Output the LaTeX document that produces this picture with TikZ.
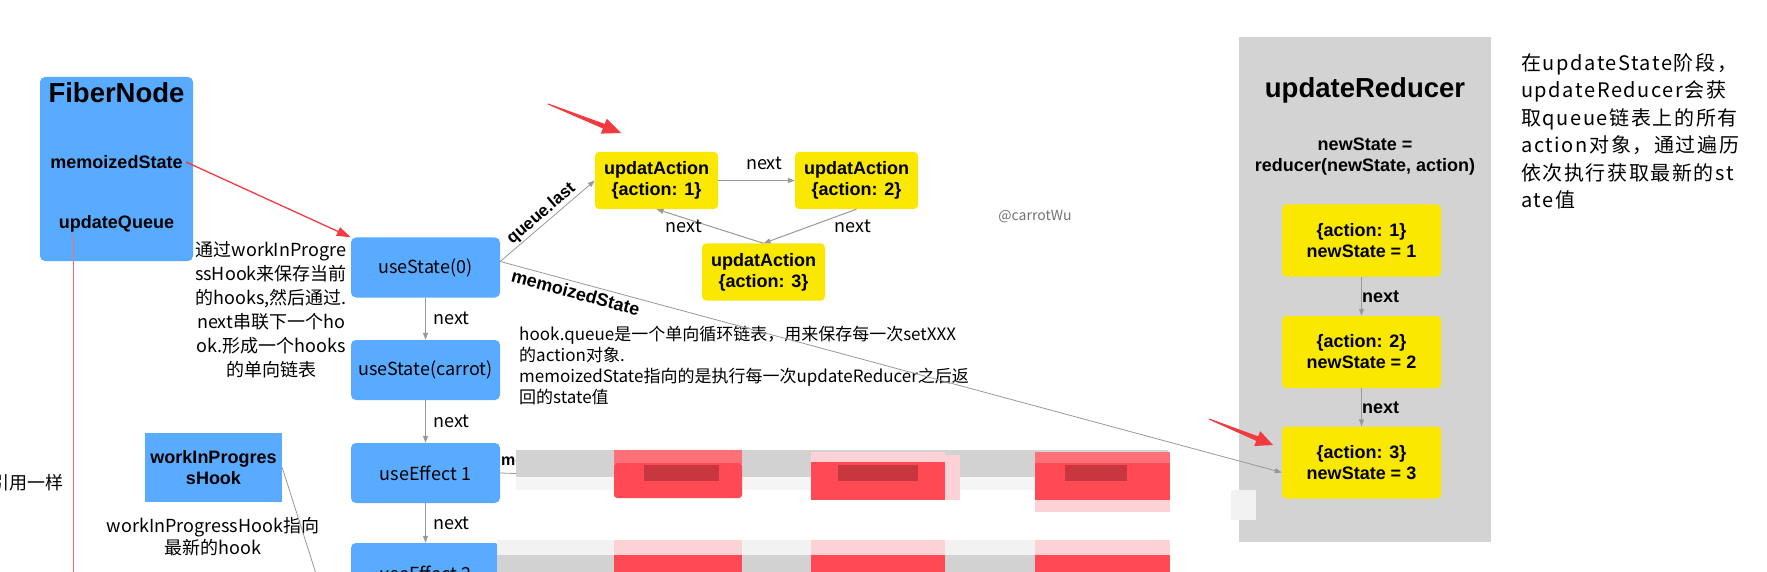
\documentclass[tikz,border=0pt]{standalone}
\usepackage{fontspec}
\setmainfont{Liberation Sans}
\newfontfamily\cjk{Noto Sans CJK SC}
\newfontfamily\cjkwide[LetterSpace=8]{Noto Sans CJK SC}
\usetikzlibrary{arrows.meta}
\definecolor{hookblue}{HTML}{58ABFF}
\definecolor{actyellow}{HTML}{FAE800}
\definecolor{panelgray}{HTML}{D3D3D3}
\definecolor{linegray}{HTML}{999999}
\definecolor{annored}{HTML}{F23A40}
\definecolor{redact}{HTML}{FF4A55}
\definecolor{redactlight}{HTML}{FF7078}
\definecolor{redactdark}{HTML}{C8363F}
\definecolor{redactpink}{HTML}{FCD2D6}
\begin{document}
\begin{tikzpicture}[x=1pt,y=-1pt,
  hookbox/.style={rectangle, rounded corners=5pt, fill=hookblue, minimum width=149pt, minimum height=60pt, inner sep=0pt, font=\cjk\fontsize{18}{22}\selectfont},
  actbox/.style={rectangle, rounded corners=4pt, fill=actyellow, minimum width=123pt, minimum height=57pt, inner sep=0pt, align=center, font=\bfseries\fontsize{18}{21}\selectfont},
  redbox/.style={rectangle, rounded corners=4pt, fill=actyellow, minimum width=159pt, minimum height=72pt, inner sep=0pt, align=center, font=\bfseries\fontsize{18}{21}\selectfont},
  nextarrow/.style={draw=linegray, line width=1pt, -{Triangle[length=7pt,width=5pt]}},
  thinarrow/.style={draw=linegray, line width=0.8pt, -{Triangle[length=7pt,width=5pt]}},
  nextlbl/.style={font=\cjk\fontsize{18}{22}\selectfont},
  boldlbl/.style={font=\bfseries\fontsize{18}{21}\selectfont},
  note/.style={font=\cjk\fontsize{18}{24}\selectfont, align=center},
  titlelbl/.style={font=\bfseries\fontsize{27.5}{30}\selectfont}
]
\useasboundingbox (0,0) rectangle (1767,572);
\fill[white] (0,0) rectangle (1767,572);

% FiberNode
\node[rectangle, rounded corners=5pt, fill=hookblue, minimum width=153pt, minimum height=184pt, inner sep=0pt] (fiber) at (116.5,169) {};
\node[titlelbl] (fbTitle) at (116.5,93) {FiberNode};
\node[boldlbl] (fbMemo) at (116.5,162) {memoizedState};
\node[boldlbl] (fbQueue) at (116.5,224) {updateQueue};
\coordinate (uqTop) at (73,235);
\coordinate (uqBot) at (73,580);
\draw[annored!75, line width=0.9pt] (uqTop) -- (uqBot);
\node[font=\cjk\fontsize{18}{22}\selectfont, anchor=east] (refSame) at (67,483) {引用一样};

% hooks chain
\node[hookbox] (hs0) at (425.5,267.5) {useState(0)};
\node[hookbox] (hs1) at (425.5,370) {useState(carrot)};
\node[hookbox] (he1) at (425.5,473) {useEffect 1};
\node[hookbox] (he2) at (425.5,573) {useEffect 2};
\draw[nextarrow] (hs0.south) -- node[nextlbl, right=4pt]{next} (hs1.north);
\draw[nextarrow] (hs1.south) -- node[nextlbl, right=4pt]{next} (he1.north);
\draw[nextarrow] (he1.south) -- node[nextlbl, right=4pt]{next} (he2.north);

\draw[annored, line width=1.3pt, -{Triangle[length=14pt,width=9pt]}] (fbMemo.east) -- (hs0.north west);

\node[note] (hookNote) at (271,310) {通过workInProgre\\ssHook来保存当前\\的hooks,然后通过.\\next串联下一个ho\\ok.形成一个hooks\\的单向链表};

% workInProgressHook
\node[rectangle, fill=hookblue, minimum width=137pt, minimum height=69pt, inner sep=0pt, align=center, font=\bfseries\fontsize{18}{21}\selectfont] (wip) at (213.5,467.5) {workInProgres\\sHook};
\node[font=\cjk\fontsize{18}{22}\selectfont, align=center] (wipNote) at (213,537) {workInProgressHook指向\\最新的hook};
\coordinate (wipEnd) at (318,580);
\draw[linegray, line width=0.8pt] (wip.east) -- (wipEnd);

% update actions
\node[actbox] (ua1) at (656.5,180.5) {updatAction\\\{action: 1\}};
\node[actbox] (ua2) at (856.5,180.5) {updatAction\\\{action: 2\}};
\node[actbox] (ua3) at (763.5,272) {updatAction\\\{action: 3\}};
\draw[nextarrow] (ua1.east) -- node[nextlbl, pos=0.6, yshift=17pt]{next} (ua2.west);
\draw[nextarrow] (ua2.south) -- node[nextlbl, midway, xshift=43pt]{next} (ua3.north);
\draw[nextarrow] (ua3.north) -- node[nextlbl, midway, xshift=-26pt]{next} (ua1.south);

% annotation arrow 1
\fill[annored] (548.2,103.5) -- (604.7,123.9) -- (606.8,118.8) -- (621,133) -- (600.8,133.6) -- (602.9,128.5) -- (547.8,104.5) -- cycle;

\node[font=\cjk\fontsize{14}{16}\selectfont, text=black!55] (wm) at (1035,217) {@carrotWu};

% hook.queue note
\node[font=\cjk\fontsize{17}{21}\selectfont, align=left, anchor=north west, inner sep=0pt] (queueNote) at (519,326) {hook.queue是一个单向循环链表，用来保存每一次setXXX\\的action对象.\\memoizedState指向的是执行每一次updateReducer之后返\\回的state值};

% updateReducer panel
\node[rectangle, fill=panelgray, minimum width=252pt, minimum height=505pt, inner sep=0pt, anchor=north west] (panel) at (1239,37) {};
\node[titlelbl] (ruTitle) at (1365,90) {updateReducer};
\node[boldlbl, align=center] (ruFormula) at (1365,156.5) {newState =\\reducer(newState, action)};
\node[redbox] (ru1) at (1361.5,240.5) {\{action: 1\}\\newState = 1};
\node[redbox] (ru2) at (1361.5,352) {\{action: 2\}\\newState = 2};
\node[redbox] (ru3) at (1361.5,462.5) {\{action: 3\}\\newState = 3};
\draw[nextarrow] (ru1.south) -- node[boldlbl, midway, anchor=west, inner sep=0pt]{next} (ru2.north);
\draw[nextarrow] (ru2.south) -- node[boldlbl, midway, anchor=west, inner sep=0pt]{next} (ru3.north);

% links from useState(0)
\draw[thinarrow] ([yshift=6pt]hs0.east) -- node[midway, sloped, above, inner sep=1pt, font=\bfseries\fontsize{17}{20}\selectfont]{queue.last} (ua1.west);
\draw[thinarrow] ([yshift=6pt]hs0.east) -- node[pos=0.1, sloped, below, boldlbl]{memoizedState} ([yshift=-10pt]ru3.west);

% annotation arrow 2
\fill[annored] (1209.2,418.5) -- (1258.1,436.3) -- (1260.2,431.2) -- (1273,445) -- (1254.2,446.0) -- (1256.3,440.9) -- (1208.8,419.5) -- cycle;

% partially hidden link from useEffect 1
\coordinate (meEnd) at (530,474);
\draw[linegray, line width=0.8pt] (he1.east) -- (meEnd);
\node[font=\bfseries\fontsize{16}{18}\selectfont, anchor=west, inner sep=0pt] (meLbl) at (501,461) {me};

% redacted (pixelated) area
\fill[gray!8] (516,476) rectangle (1168,490);
\fill[gray!35] (516,450) rectangle (1168,477);
\fill[gray!10] (1231,490) rectangle (1256,520);
\fill[redactlight] (614,450) rectangle (742,464);
\fill[redact, rounded corners=3pt] (614,463) rectangle (742,498);
\fill[redactdark] (644,465) rectangle (719,481);
\fill[redactpink] (811,452) rectangle (945,463);
\fill[redact] (811,462) rectangle (945,500);
\fill[redactdark] (838,465) rectangle (918,481);
\fill[redactpink] (945,455) rectangle (960,500);
\fill[redactlight] (1035,452) rectangle (1170,464);
\fill[redact] (1035,463) rectangle (1170,500);
\fill[redactdark] (1065,465) rectangle (1127,481);
\fill[redactpink] (1035,500) rectangle (1170,512);
% second row
\fill[gray!10] (497,540) rectangle (1168,555);
\fill[gray!35] (497,555) rectangle (1168,572);
\fill[redactpink] (614,540) rectangle (742,555);
\fill[redact] (614,555) rectangle (742,572);
\fill[redactpink] (811,540) rectangle (945,555);
\fill[redact] (811,555) rectangle (945,572);
\fill[redactpink] (1035,540) rectangle (1170,555);
\fill[redact] (1035,555) rectangle (1170,572);

% right note
\node[font=\cjkwide\fontsize{20}{27.5}\selectfont, align=left, anchor=north west, inner sep=0pt] (stateNote) at (1521,53) {在updateState阶段，\\updateReducer会获\\取queue链表上的所有\\action对象，通过遍历\\依次执行获取最新的st\\ate值};
\end{tikzpicture}
\end{document}
